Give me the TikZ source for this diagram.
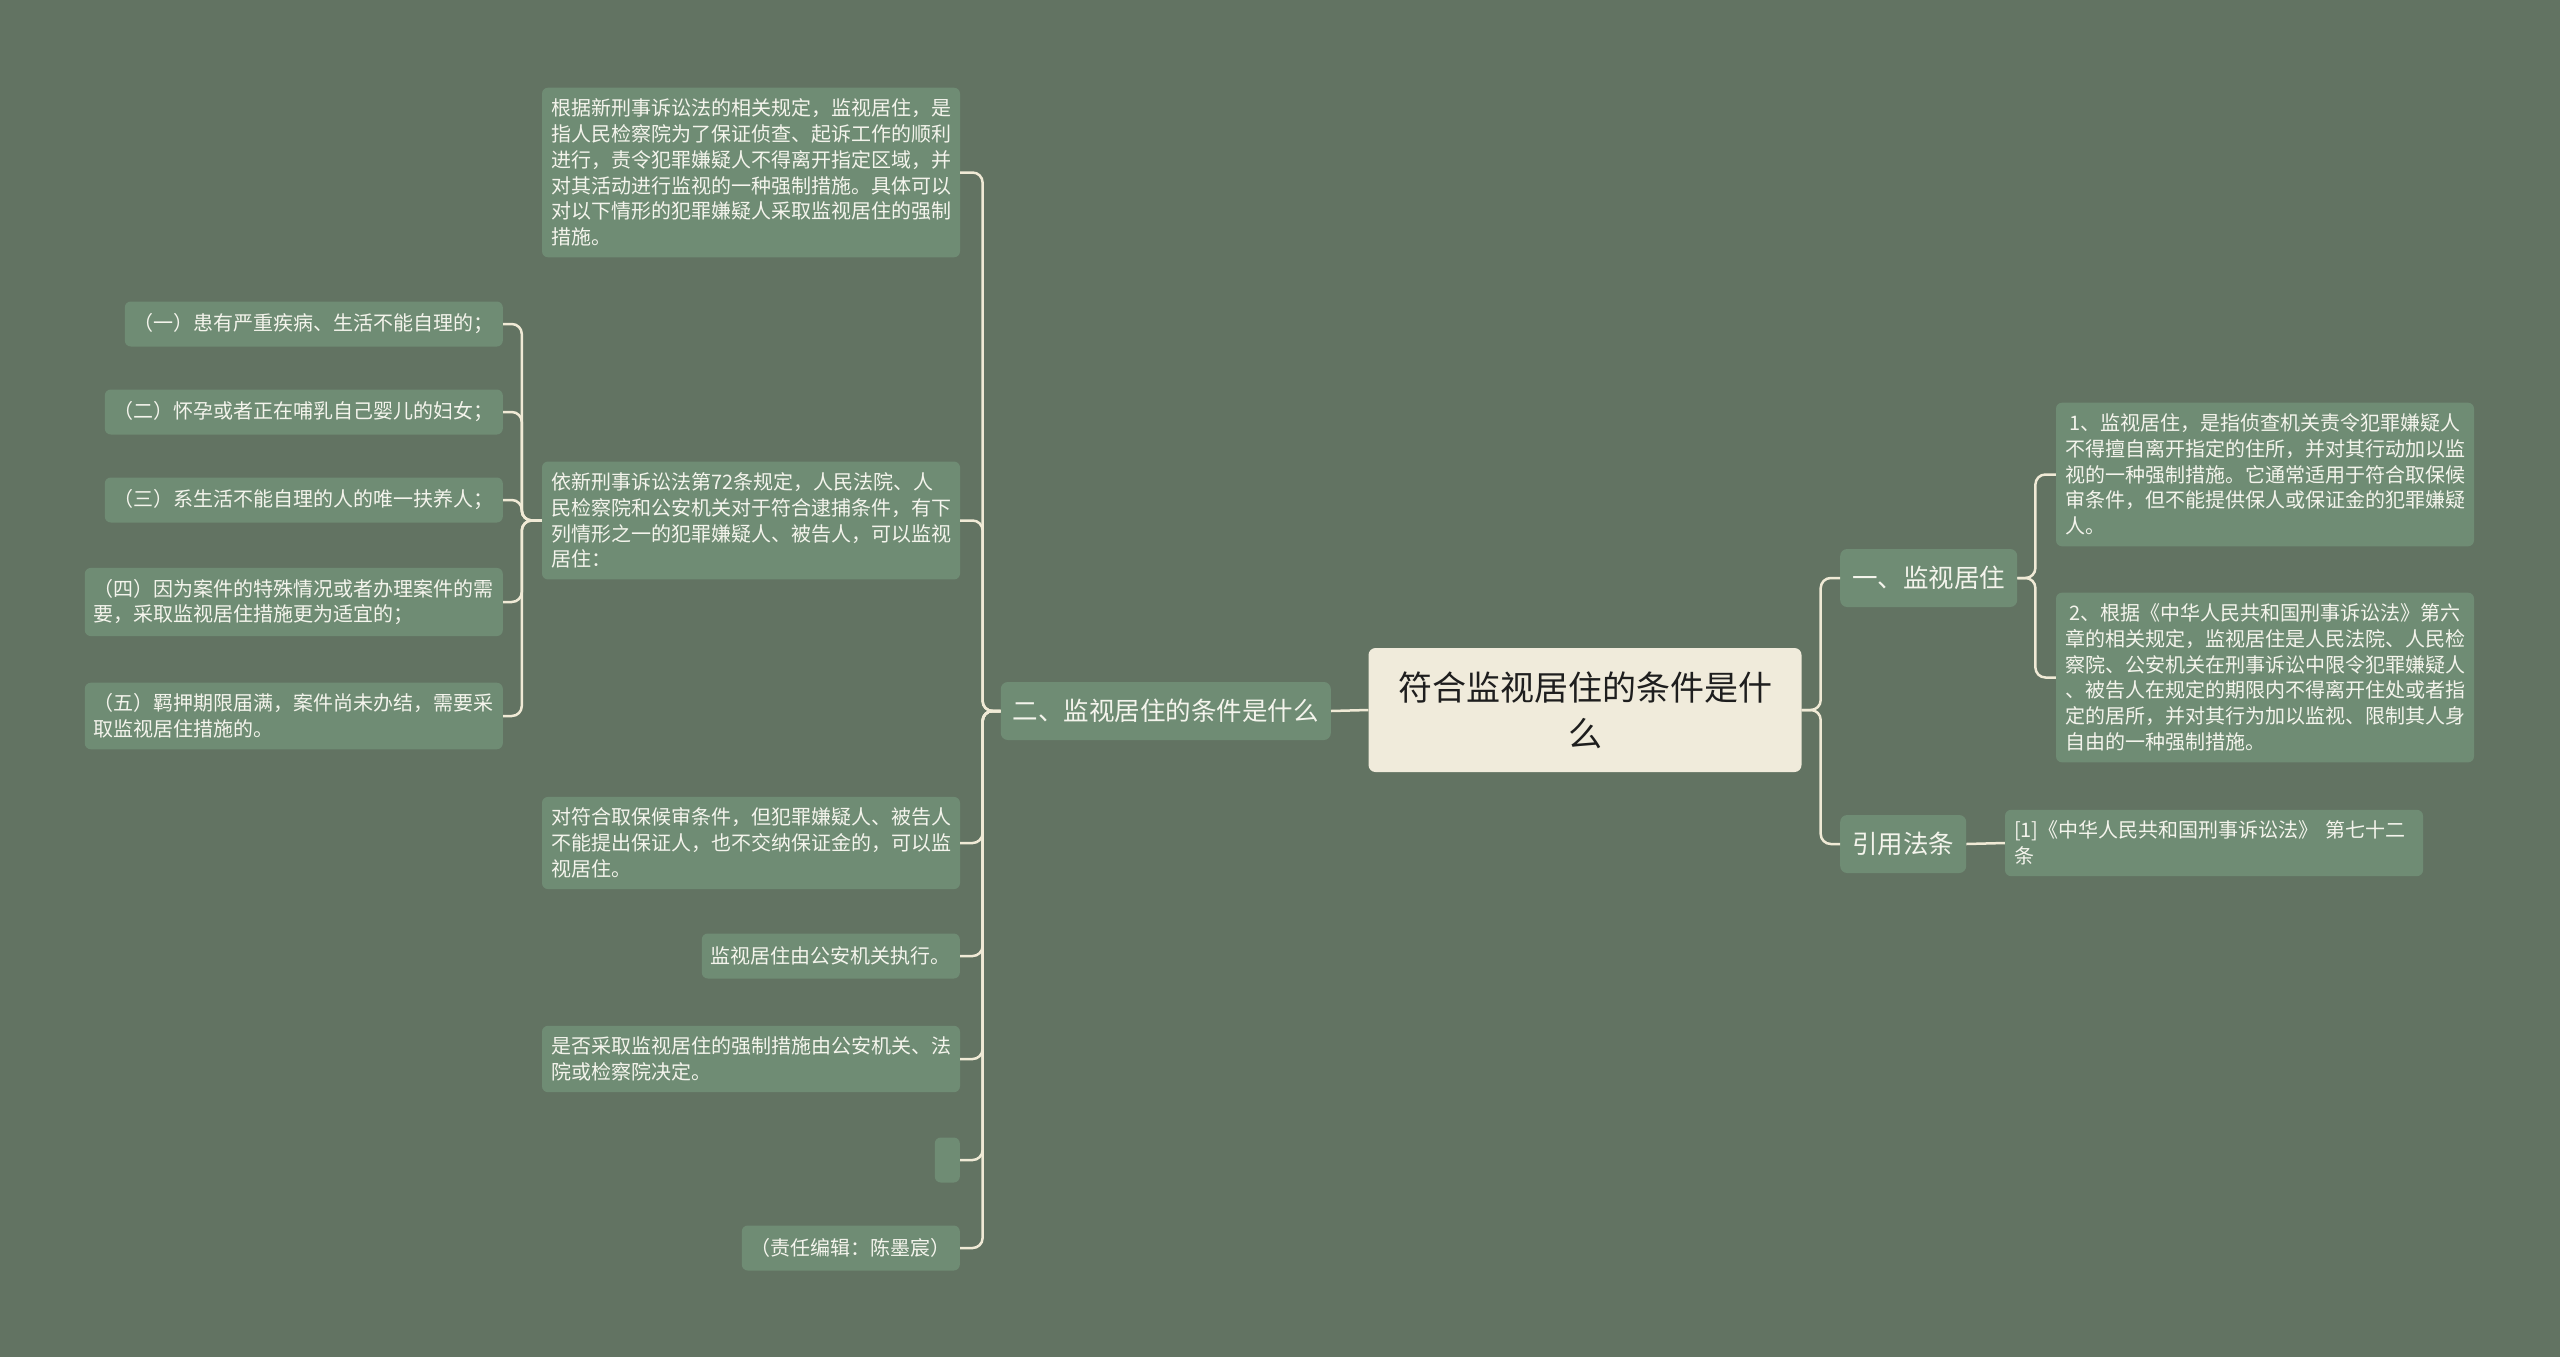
\documentclass[tikz,border=0pt]{standalone}
\usepackage{fontspec}
\setmainfont{Noto Sans CJK SC}
\definecolor{bgc}{RGB}{98,115,98}
\definecolor{leafc}{RGB}{111,140,116}
\definecolor{txtc}{RGB}{244,244,236}
\definecolor{rootc}{RGB}{240,235,219}
\definecolor{rtxt}{RGB}{30,30,30}
\definecolor{linec}{RGB}{240,234,214}
\begin{document}
\begin{tikzpicture}[x=1pt,y=-1pt,
  leaf/.style={fill=leafc, text=txtc, rounded corners=6pt, font=\fontsize{20}{25.8}\selectfont, inner xsep=9pt, inner ysep=11pt, minimum height=45pt, align=left},
  wide/.style={leaf, text width=400pt},
  lvl/.style={fill=leafc, text=txtc, rounded corners=7pt, font=\fontsize{25.5}{30}\selectfont, inner xsep=12pt, minimum height=58pt},
  rootn/.style={fill=rootc, text=rtxt, rounded corners=7pt, font=\fontsize{34}{46}\selectfont, minimum width=433pt, minimum height=124pt, text width=400pt, align=center},
  conn/.style={draw=linec, line width=2.5pt, rounded corners=10pt}]
\useasboundingbox (0,0) rectangle (2560,1357);
\fill[bgc] (0,0) rectangle (2560,1357);

% root and level 1
\node[rootn] (root) at (1585,710) {符合监视居住的条件是什\\么};
\node[lvl, anchor=east] (n2) at (1331,711) {二、监视居住的条件是什么};
\node[lvl, anchor=west] (n1) at (1840,578) {一、监视居住};
\node[lvl, anchor=west] (n3) at (1840,844) {引用法条};

% right leaves
\node[wide] (r1) at (2265,474.5) {\hspace*{4pt}1、监视居住，是指侦查机关责令犯罪嫌疑人\\不得擅自离开指定的住所，并对其行动加以监\\视的一种强制措施。它通常适用于符合取保候\\审条件，但不能提供保人或保证金的犯罪嫌疑\\人。};
\node[wide] (r2) at (2265,677.5) {\hspace*{4pt}2、根据《中华人民共和国刑事诉讼法》第六\\章的相关规定，监视居住是人民法院、人民检\\察院、公安机关在刑事诉讼中限令犯罪嫌疑人\\、被告人在规定的期限内不得离开住处或者指\\定的居所，并对其行为加以监视、限制其人身\\自由的一种强制措施。};
\node[wide] (r3) at (2214,843) {[1]《中华人民共和国刑事诉讼法》 第七十二\\条};

% left leaves
\node[wide] (a) at (751,172.5) {根据新刑事诉讼法的相关规定，监视居住，是\\指人民检察院为了保证侦查、起诉工作的顺利\\进行，责令犯罪嫌疑人不得离开指定区域，并\\对其活动进行监视的一种强制措施。具体可以\\对以下情形的犯罪嫌疑人采取监视居住的强制\\措施。};
\node[wide] (b) at (751,520.5) {依新刑事诉讼法第72条规定，人民法院、人\\民检察院和公安机关对于符合逮捕条件，有下\\列情形之一的犯罪嫌疑人、被告人，可以监视\\居住：};
\node[wide] (c) at (751,843) {对符合取保候审条件，但犯罪嫌疑人、被告人\\不能提出保证人，也不交纳保证金的，可以监\\视居住。};
\node[leaf, anchor=east] (d) at (960,956) {监视居住由公安机关执行。};
\node[wide] (e) at (751,1059) {是否采取监视居住的强制措施由公安机关、法\\院或检察院决定。};
\node[leaf, anchor=east, minimum width=25pt, inner xsep=0pt] (f) at (960,1160) {};
\node[leaf, anchor=east] (g) at (960,1248) {（责任编辑：陈墨宸）};

% sub leaves
\node[leaf, anchor=east] (s1) at (503,324) {（一）患有严重疾病、生活不能自理的；};
\node[leaf, anchor=east] (s2) at (503,412) {（二）怀孕或者正在哺乳自己婴儿的妇女；};
\node[leaf, anchor=east] (s3) at (503,500) {（三）系生活不能自理的人的唯一扶养人；};
\node[wide, anchor=east] (s4) at (503,602) {（四）因为案件的特殊情况或者办理案件的需\\要，采取监视居住措施更为适宜的；};
\node[wide, anchor=east] (s5) at (503,716) {（五）羁押期限届满，案件尚未办结，需要采\\取监视居住措施的。};

% connectors
\draw[conn] (root.west) -- (n2.east);
\foreach \t in {a,b,c,d,e,f,g}{
  \draw[conn] (n2.west) -- ++(-18,0) |- (\t.east);
}
\foreach \t in {s1,s2,s3,s4,s5}{
  \draw[conn] (b.west) -- ++(-20,0) |- (\t.east);
}
\foreach \t in {n1,n3}{
  \draw[conn] (root.east) -- ++(19,0) |- (\t.west);
}
\foreach \t in {r1,r2}{
  \draw[conn] (n1.east) -- ++(18,0) |- (\t.west);
}
\draw[conn] (n3.east) -- (r3.west);
\end{tikzpicture}
\end{document}
